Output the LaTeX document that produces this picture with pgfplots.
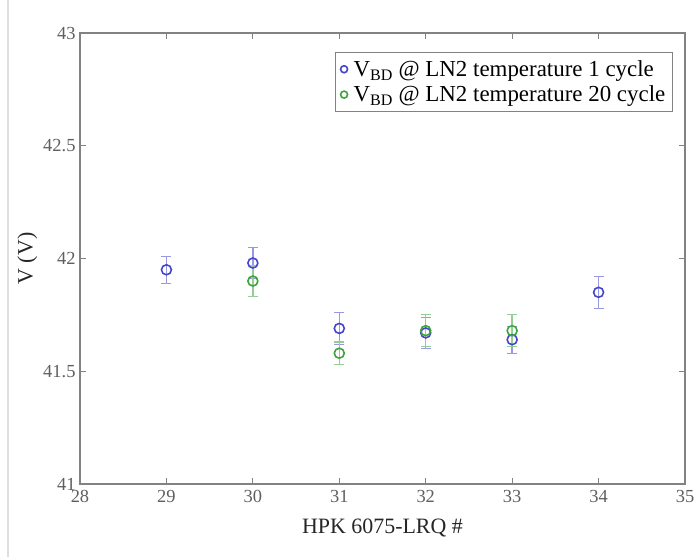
\documentclass[border=0pt]{standalone}
\usepackage{fontspec}
\setmainfont{Liberation Serif}
\usepackage{pgfplots}
\pgfplotsset{compat=1.18}
\definecolor{myblue}{RGB}{70,70,205}
\definecolor{mygreen}{RGB}{60,165,60}
\definecolor{axgray}{RGB}{130,130,130}
\definecolor{tickgray}{RGB}{95,95,95}
\begin{document}
\begin{tikzpicture}
\useasboundingbox (-80bp,-73bp) rectangle (618bp,484bp);
\draw[gray!25, line width=1.2bp] (-72bp,-73bp) -- (-72bp,484bp);
\begin{axis}[
  at={(0,0)}, anchor=south west,
  scale only axis, width=605bp, height=451bp,
  xmin=28, xmax=35, ymin=41, ymax=43,
  xtick={28,...,35}, ytick={41,41.5,42,42.5,43},
  tick align=inside, major tick length=6bp,
  axis line style={axgray, line width=1.2bp},
  every tick/.style={axgray, line width=1bp},
  /pgf/number format/assume math mode=true,
  tick label style={font=\fontsize{18.5}{22}\selectfont, text=tickgray},
  xticklabel style={yshift=-3bp},
  yticklabel style={/pgf/number format/fixed, xshift=-1bp},
  xlabel={HPK 6075-LRQ \#}, ylabel={V (V)},
  label style={font=\fontsize{22}{26}\selectfont, text=black!85},
  xlabel style={at={(axis description cs:0.5,-0.097)}, anchor=center},
  ylabel style={at={(axis description cs:-0.087,0.5)}, anchor=center},
  legend style={at={(axis description cs:0.98,0.958)}, anchor=north east,
    draw=axgray, line width=1.2bp, font=\fontsize{23}{27}\selectfont,
    row sep=4bp, inner xsep=5bp, inner ysep=6bp},
  legend cell align=left,
  legend image post style={mark size=3.5bp, line width=1.6bp},
]
\addplot[only marks, mark=o, mark size=5bp, myblue, line width=1.6bp,
  error bars/.cd, y dir=both, y explicit,
  error bar style={myblue!55, line width=1.4bp},
  error mark options={rotate=90, mark size=5bp, myblue!55, line width=1.2bp}]
  coordinates {
  (29,41.95) +- (0,0.06)
  (30,41.98) +- (0,0.07)
  (31,41.69) +- (0,0.07)
  (32,41.67) +- (0,0.07)
  (33,41.64) +- (0,0.06)
  (34,41.85) +- (0,0.07)
};
\addlegendentry{\hspace{4bp}V\textsubscript{BD} @ LN2 temperature 1 cycle}
\addplot[only marks, mark=o, mark size=5bp, mygreen, line width=1.6bp,
  error bars/.cd, y dir=both, y explicit,
  error bar style={mygreen!55, line width=1.4bp},
  error mark options={rotate=90, mark size=5bp, mygreen!55, line width=1.2bp}]
  coordinates {
  (30,41.90) +- (0,0.07)
  (31,41.58) +- (0,0.05)
  (32,41.68) +- (0,0.07)
  (33,41.68) +- (0,0.07)
};
\addlegendentry{\hspace{4bp}V\textsubscript{BD} @ LN2 temperature 20 cycle}
\end{axis}
\end{tikzpicture}
\end{document}
